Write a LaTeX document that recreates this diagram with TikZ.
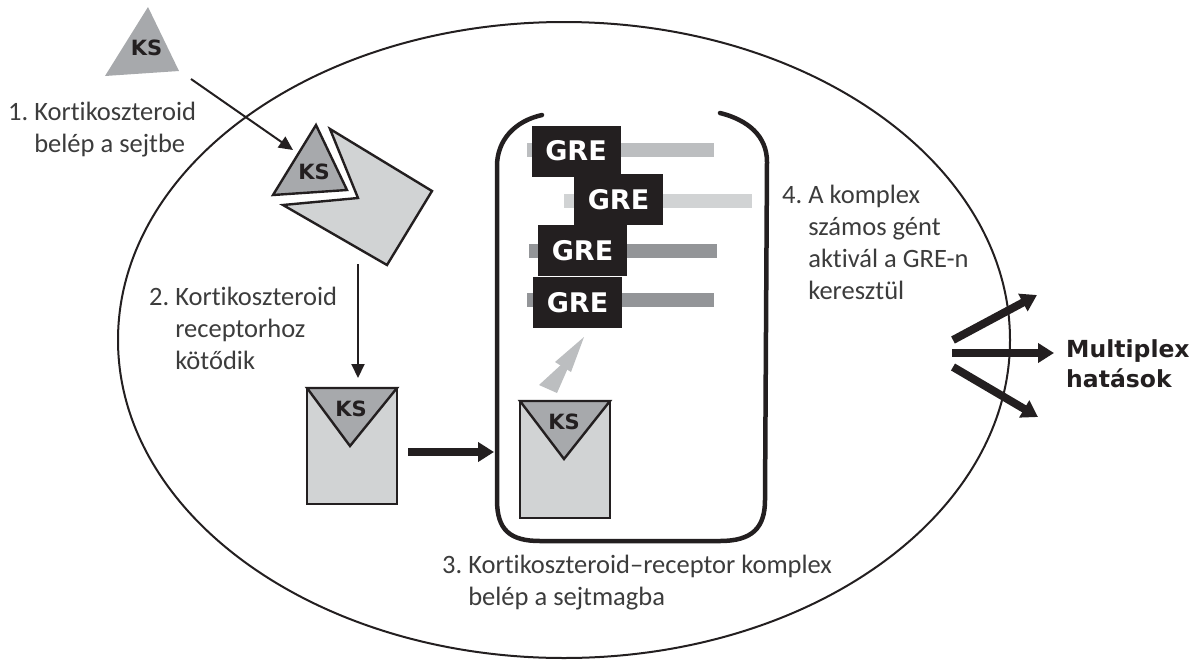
\documentclass[tikz,border=0pt]{standalone}
\usepackage{fontspec}
\setmainfont{Carlito}[Ligatures={NoCommon}]
\newfontfamily\labfont{DejaVu Sans}
\usetikzlibrary{arrows.meta}

\definecolor{ligand}{HTML}{A7A9AC}
\definecolor{receptor}{HTML}{D1D3D4}
\definecolor{barA}{HTML}{BCBEC0}
\definecolor{barB}{HTML}{D1D3D4}
\definecolor{barC}{HTML}{939598}
\definecolor{notecol}{HTML}{3C3C3C}
\definecolor{ink}{HTML}{231F20}

\tikzset{
  note/.style={font=\fontsize{26.5}{32}\selectfont, text=notecol, align=left,
    inner sep=0pt, anchor=north west},
  kslabel/.style={font=\labfont\bfseries\fontsize{21}{24}\selectfont, text=ink, inner sep=0pt},
  gre/.style={fill=ink, text=white, font=\labfont\bfseries\fontsize{27}{30}\selectfont,
    minimum width=89pt, minimum height=51pt, inner sep=0pt},
  genebar/.style={line width=13.5pt},
  outline/.style={draw=ink, line width=2.4pt, line join=miter},
  thinarrow/.style={draw=ink, line width=2pt, -{Triangle[length=14pt,width=13pt]}},
  thickarrow/.style={draw=ink, line width=8pt, -{Triangle[length=16pt,width=19pt]}},
}

\begin{document}
\begin{tikzpicture}[x=1pt, y=-1pt]
\useasboundingbox (0,0) rectangle (1197,662);

% cell membrane
\draw[ink, line width=2pt] (564,340) ellipse [x radius=446pt, y radius=318pt];

% nucleus (open at the top)
\draw[ink, line width=4.5pt, line cap=round]
  (542,115) .. controls (515,121) and (497,140) .. (497,166)
  -- (497,500) .. controls (497,530) and (510,541) .. (540,541)
  -- (720,541) .. controls (752,541) and (765,528) .. (765,500)
  -- (767,162) .. controls (767,136) and (748,120) .. (720,113);

% free corticosteroid
\fill[ligand] (148,7) -- (105,76) -- (179,71) -- cycle;
\node[kslabel] (ks0) at (146.5,48) {KS};

% corticosteroid binding to its receptor
\filldraw[fill=receptor, outline]
  (330,129) -- (432,191) -- (387,265) -- (283,205) -- (358,198) -- cycle;
\filldraw[fill=ligand, outline] (316,125) -- (273,195) -- (347,190) -- cycle;
\node[kslabel] (ks1) at (314,172) {KS};

% bound complex in the cytoplasm
\filldraw[fill=receptor, outline] (307,388) rectangle (397,504);
\filldraw[fill=ligand, outline] (307,388) -- (397,388) -- (350,446) -- cycle;
\node[kslabel] (ks2) at (351,409) {KS};

% complex inside the nucleus
\filldraw[fill=receptor, outline] (520,401) rectangle (610,518);
\filldraw[fill=ligand, outline] (520,401) -- (610,401) -- (564,459) -- cycle;
\node[kslabel] (ks3) at (564,422) {KS};

% genes
\draw[genebar, barA] (527,150) -- (714,150);
\draw[genebar, barB] (564,201) -- (752,201);
\draw[genebar, barC] (529,251) -- (717,251);
\draw[genebar, barC] (527,300) -- (714,300);
\node[gre] (g1) at (576,151) {GRE};
\node[gre] (g2) at (618.5,199.5) {GRE};
\node[gre] (g3) at (582.5,250.5) {GRE};
\node[gre] (g4) at (577.5,302.5) {GRE};

% activation arrow towards the GREs
\coordinate (act0) at (548,389);
\coordinate (act1) at (584,337);
\fill[barA] (539,385) -- (557,393) -- (575,352) -- cycle;
\fill[barA] (555,362) -- (571,372) -- (act1) -- cycle;

% connectors
\coordinate (a1s) at (191,79);
\coordinate (a1e) at (293,150);
\draw[thinarrow] (a1s) -- (a1e);
\coordinate (a2s) at (358,264);
\coordinate (a2e) at (358,378);
\draw[thinarrow] (a2s) -- (a2e);
\coordinate (a3s) at (408,452);
\coordinate (a3e) at (494,452);
\draw[thickarrow] (a3s) -- (a3e);

% multiple effects
\coordinate (m0) at (953,340);
\coordinate (m1) at (1037,295);
\coordinate (n0) at (952,353);
\coordinate (n1) at (1054,353);
\coordinate (o0) at (953,367);
\coordinate (o1) at (1038,417);
\draw[thickarrow] (m0) -- (m1);
\draw[thickarrow] (n0) -- (n1);
\draw[thickarrow] (o0) -- (o1);
\node[font=\labfont\bfseries\fontsize{23.5}{30}\selectfont, text=ink, align=left, inner sep=0pt,
  anchor=north west] (eff) at (1066,339) {Multiplex\\hatások};

% step descriptions
\node[note] (t1) at (8,102) {1.\ Kortikoszteroid\\\phantom{1.\ }belép a sejtbe};
\node[note] (t2) at (149,287) {2.\ Kortikoszteroid\\\phantom{2.\ }receptorhoz\\\phantom{2.\ }kötődik};
\node[note] (t3) at (442,555) {3.\ Kortikoszteroid–receptor komplex\\\phantom{3.\ }belép a sejtmagba};
\node[note] (t4) at (782,185) {4.\ A komplex\\\phantom{4.\ }számos gént\\\phantom{4.\ }aktivál a GRE-n\\\phantom{4.\ }keresztül};
\end{tikzpicture}
\end{document}
